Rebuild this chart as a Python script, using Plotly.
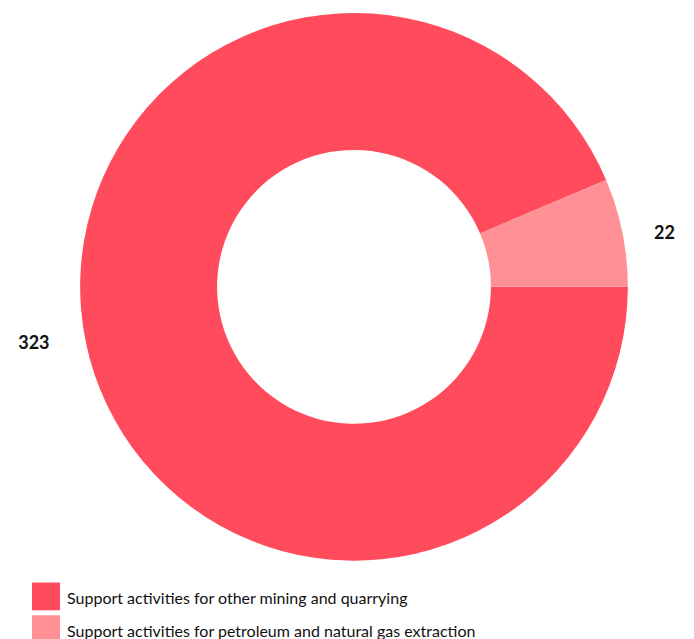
import plotly.graph_objects as go

labels = ["Support activities for other mining and quarrying",
          "Support activities for petroleum and natural gas extraction"]
values = [323, 22]
colors = ["#FF4B5B", "#FF9095"]

W, H = 694, 639
OFF = 8  # page body margin
cx, cy, R = 354 - OFF, 284 - OFF, 276

templates = ["%{value}" + "\u00a0" * 7, "\u00a0" * 6 + "%{value}"]

fig = go.Figure(go.Pie(
    labels=labels, values=values, hole=0.5, sort=False,
    direction="clockwise", rotation=90,
    marker=dict(colors=colors, line=dict(width=0)),
    texttemplate=templates, textposition="outside",
    textfont=dict(family="Lato", size=18, color="#111111", weight="bold"),
    domain=dict(x=[(cx - R) / W, (cx + R) / W], y=[(H - cy - R) / H, (H - cy + R) / H]),
    showlegend=False, hoverinfo="label+value",
))

shapes, annos = [], []
for i, (lab, col) in enumerate(zip(labels, colors)):
    top = 582 - OFF + i * 33
    shapes.append(dict(type="rect", xref="paper", yref="paper",
                       x0=(32 - OFF) / W, x1=(60 - OFF) / W,
                       y0=1 - (top + 28) / H, y1=1 - top / H,
                       fillcolor=col, line=dict(width=0)))
    annos.append(dict(xref="paper", yref="paper", x=(65 - OFF) / W, y=1 - (top + 15) / H,
                      xanchor="left", yanchor="middle", showarrow=False, text=lab,
                      font=dict(family="Lato", size=16, color="#111111")))

fig.update_layout(width=W, height=H, margin=dict(l=0, r=0, t=0, b=0),
                  paper_bgcolor="white", plot_bgcolor="white",
                  shapes=shapes, annotations=annos)
fig.write_html("out.html")
